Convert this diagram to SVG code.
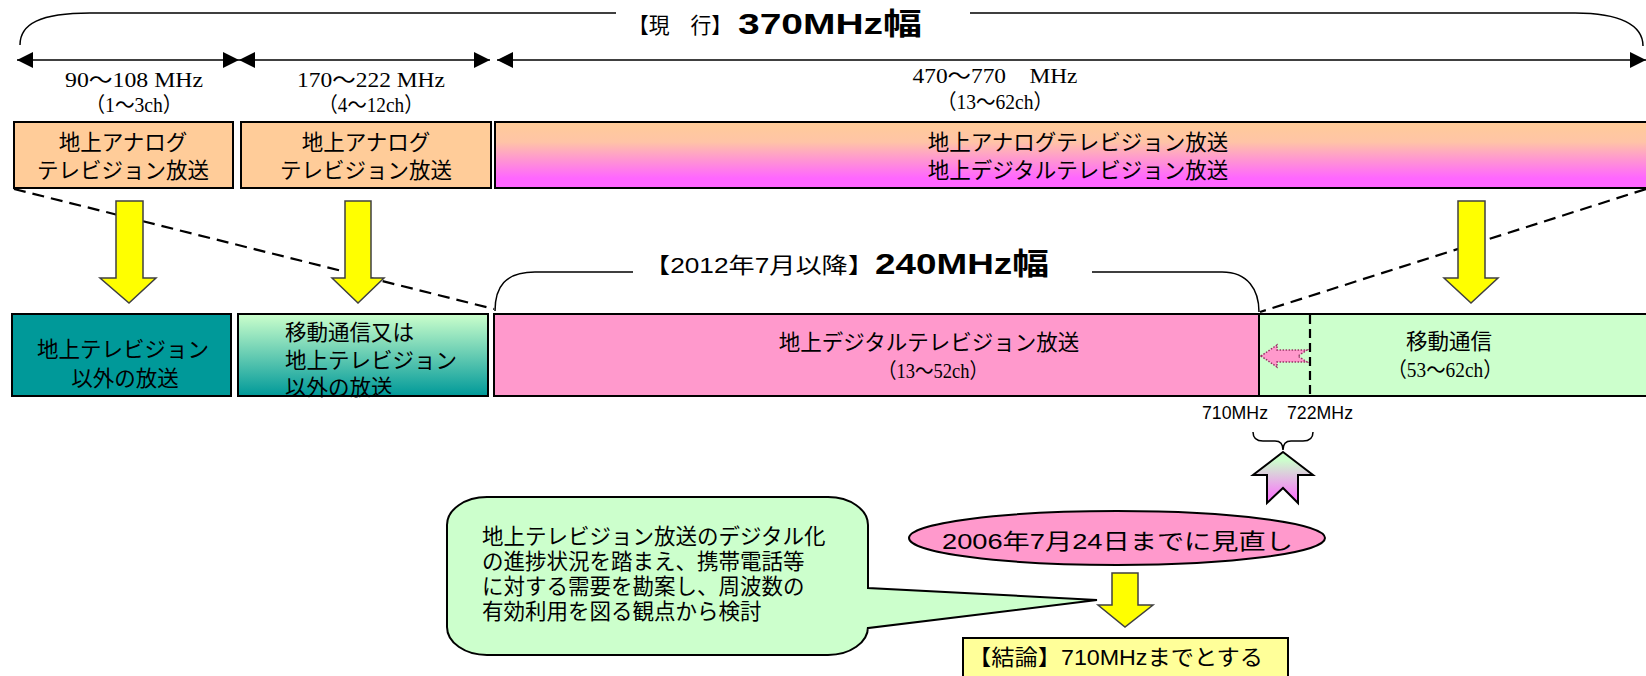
<svg xmlns="http://www.w3.org/2000/svg" width="1646" height="676" viewBox="0 0 1646 676">
<style>
.jp{font-family:"Liberation Sans","Noto Sans CJK JP",sans-serif;font-size:21.5px;fill:#000}
.sr{font-family:"Liberation Serif","Noto Sans CJK JP",serif;font-size:21px;fill:#000}
.box{stroke:#000;stroke-width:2}
.ya{fill:#FFFF00;stroke:#404040;stroke-width:1.5;stroke-linejoin:miter}
.dim{stroke:#000;stroke-width:1.5;fill:none}
.dash{stroke:#000;stroke-width:2.2;stroke-dasharray:12 7;fill:none}
.br{stroke:#000;stroke-width:1.5;fill:none}
.bt{font-family:"Liberation Sans","Noto Sans CJK JP",sans-serif;font-weight:bold;font-size:30px;fill:#000}
</style>
<defs>
<marker id="ah" viewBox="0 0 16 16" refX="16" refY="8" markerWidth="16" markerHeight="16" markerUnits="userSpaceOnUse" orient="auto-start-reverse"><path d="M0,0 L16,8 L0,16 z" fill="#000"/></marker>
<linearGradient id="g3" x1="0" y1="0" x2="0" y2="1"><stop offset="0" stop-color="#FFCC99"/><stop offset="0.3" stop-color="#FFC4A6"/><stop offset="0.85" stop-color="#FF66FF"/><stop offset="1" stop-color="#FF66FF"/></linearGradient>
<linearGradient id="gB" x1="0" y1="0" x2="0" y2="1"><stop offset="0" stop-color="#CCFFCC"/><stop offset="1" stop-color="#009999"/></linearGradient>
<linearGradient id="gUp" x1="0" y1="0" x2="0" y2="1"><stop offset="0.15" stop-color="#CCFFCC"/><stop offset="1" stop-color="#FF66FF"/></linearGradient>
</defs>
<rect width="1646" height="676" fill="#fff"/>

<g id="connectors">
<path class="br" d="M20,45 C20,24 40,13 90,13 L616,13"/>
<path class="br" d="M970,13 L1575,13 C1620,13 1643,25 1643,46"/>
<line class="dim" x1="17" y1="60" x2="239" y2="60" marker-start="url(#ah)" marker-end="url(#ah)"/>
<line class="dim" x1="239" y1="60" x2="490" y2="60" marker-start="url(#ah)" marker-end="url(#ah)"/>
<line class="dim" x1="497" y1="60" x2="1646" y2="60" marker-start="url(#ah)" marker-end="url(#ah)"/>
<line class="dash" x1="14" y1="189" x2="494" y2="309"/>
<line class="dash" x1="1646" y1="189" x2="1260" y2="312"/>
<path class="br" d="M495,311 C495,287 505,272 535,272 L633,272"/>
<path class="br" d="M1092,272 L1222,272 C1248,272 1259,290 1259,312"/>
<path class="ya" d="M116,201 L143,201 L143,278 L156,278 L129,303 L100,278 L116,278 Z"/>
<path class="ya" d="M345,201 L371,201 L371,278 L384,278 L358,303 L332,278 L345,278 Z"/>
<path class="ya" d="M1458,201 L1485,201 L1485,278 L1498,278 L1471,303 L1444,278 L1458,278 Z"/>
<path class="ya" d="M1112,573 L1138,573 L1138,605 L1153,605 L1125,627 L1098,605 L1112,605 Z"/>
<path class="br" d="M1253,432 Q1253,441 1263,441 L1275,441 Q1283,441 1283,450 Q1283,441 1291,441 L1303,441 Q1313,441 1313,432"/>
<path d="M1283,452 L1313,475 L1298,475 L1298,503 L1283,488 L1267,503 L1267,475 L1253,475 Z" fill="url(#gUp)" stroke="#000" stroke-width="2"/>
</g>

<g id="title370">
<text x="628" y="33" class="jp" font-size="21" textLength="104" lengthAdjust="spacingAndGlyphs" xml:space="preserve">【現　行】</text>
<text x="738" y="34" class="bt" textLength="184" lengthAdjust="spacingAndGlyphs">370MHz幅</text>
</g>
<g id="title240">
<text x="644" y="273" class="jp" font-size="21" textLength="230" lengthAdjust="spacingAndGlyphs">【2012年7月以降】</text>
<text x="875" y="274" class="bt" textLength="174" lengthAdjust="spacingAndGlyphs">240MHz幅</text>
</g>

<g id="labels" text-anchor="middle">
<text class="sr" x="134" y="87" textLength="138" lengthAdjust="spacingAndGlyphs">90～108 MHz</text>
<text class="sr" x="134" y="112" textLength="97" lengthAdjust="spacingAndGlyphs">（1～3ch）</text>
<text class="sr" x="371" y="87" textLength="148" lengthAdjust="spacingAndGlyphs">170～222 MHz</text>
<text class="sr" x="371" y="112" textLength="105" lengthAdjust="spacingAndGlyphs">（4～12ch）</text>
<text class="sr" x="995" y="83" textLength="165" lengthAdjust="spacingAndGlyphs" xml:space="preserve">470～770　MHz</text>
<text class="sr" x="995" y="109" textLength="116" lengthAdjust="spacingAndGlyphs">（13～62ch）</text>
</g>

<g id="box1"><rect class="box" x="14" y="122" width="219" height="66" fill="#FFCC99"/>
<text class="jp" x="123" y="150" text-anchor="middle">地上アナログ</text>
<text class="jp" x="123" y="178" text-anchor="middle">テレビジョン放送</text></g>
<g id="box2"><rect class="box" x="241" y="122" width="250" height="66" fill="#FFCC99"/>
<text class="jp" x="366" y="150" text-anchor="middle">地上アナログ</text>
<text class="jp" x="366" y="178" text-anchor="middle">テレビジョン放送</text></g>
<g id="box3"><rect class="box" x="495" y="122" width="1160" height="66" fill="url(#g3)"/>
<text class="jp" x="1078" y="150" text-anchor="middle">地上アナログテレビジョン放送</text>
<text class="jp" x="1078" y="178" text-anchor="middle">地上デジタルテレビジョン放送</text></g>

<g id="boxA"><rect class="box" x="12" y="314" width="219" height="82" fill="#009999"/>
<text class="jp" x="123" y="357" text-anchor="middle">地上テレビジョン</text>
<text class="jp" x="125" y="386" text-anchor="middle">以外の放送</text></g>
<g id="boxB"><rect class="box" x="238" y="314" width="250" height="82" fill="url(#gB)"/>
<text class="jp" x="285" y="340">移動通信又は</text>
<text class="jp" x="285" y="368">地上テレビジョン</text>
<text class="jp" x="285" y="395">以外の放送</text></g>
<g id="boxC"><rect class="box" x="494" y="314" width="765" height="82" fill="#FF99CC"/>
<text class="jp" x="929" y="350" text-anchor="middle">地上デジタルテレビジョン放送</text>
<text class="sr" x="933" y="378" text-anchor="middle" textLength="110" lengthAdjust="spacingAndGlyphs">（13～52ch）</text></g>
<g id="boxD"><rect class="box" x="1259" y="314" width="395" height="82" fill="#CCFFCC"/>
<line x1="1310" y1="315" x2="1310" y2="396" stroke="#000" stroke-width="2.2" stroke-dasharray="9 5"/>
<path d="M1261,356 L1277,345 L1277,350 L1307,350 L1298,356 L1307,362 L1277,362 L1277,367 Z" fill="#FF99CC" stroke="#993366" stroke-width="1.5" stroke-dasharray="1.5 1.5"/>
<text class="jp" x="1449" y="349" text-anchor="middle">移動通信</text>
<text class="sr" x="1445" y="377" text-anchor="middle" textLength="115" lengthAdjust="spacingAndGlyphs">（53～62ch）</text></g>

<g id="freqlabels" font-family="Liberation Sans,sans-serif" font-size="18">
<text x="1202" y="419" textLength="66" lengthAdjust="spacingAndGlyphs">710MHz</text>
<text x="1287" y="419" textLength="66" lengthAdjust="spacingAndGlyphs">722MHz</text>
</g>

<g id="callout">
<path d="M487,497 L828,497 A40,28 0 0 1 868,525 L868,588 L1097,600 L868,628 L868,627 A40,28 0 0 1 828,655 L487,655 A40,28 0 0 1 447,627 L447,525 A40,28 0 0 1 487,497 Z" fill="#CCFFCC" stroke="#000" stroke-width="2"/>
<text class="jp" x="482" y="544">地上テレビジョン放送のデジタル化</text>
<text class="jp" x="482" y="569">の進捗状況を踏まえ、携帯電話等</text>
<text class="jp" x="482" y="594">に対する需要を勘案し、周波数の</text>
<text class="jp" x="482" y="619">有効利用を図る観点から検討</text>
</g>

<g id="review">
<ellipse cx="1117" cy="538" rx="208" ry="27" fill="#FF99CC" stroke="#000" stroke-width="2"/>
<text class="jp" x="942" y="549" font-size="24" textLength="351" lengthAdjust="spacingAndGlyphs">2006年7月24日までに見直し</text>
</g>

<g id="conclusion">
<rect x="963" y="638" width="325" height="50" fill="#FFFF99" stroke="#000" stroke-width="2"/>
<text class="jp" x="968" y="665" font-size="22" textLength="295" lengthAdjust="spacingAndGlyphs">【結論】710MHzまでとする</text>
</g>
</svg>
